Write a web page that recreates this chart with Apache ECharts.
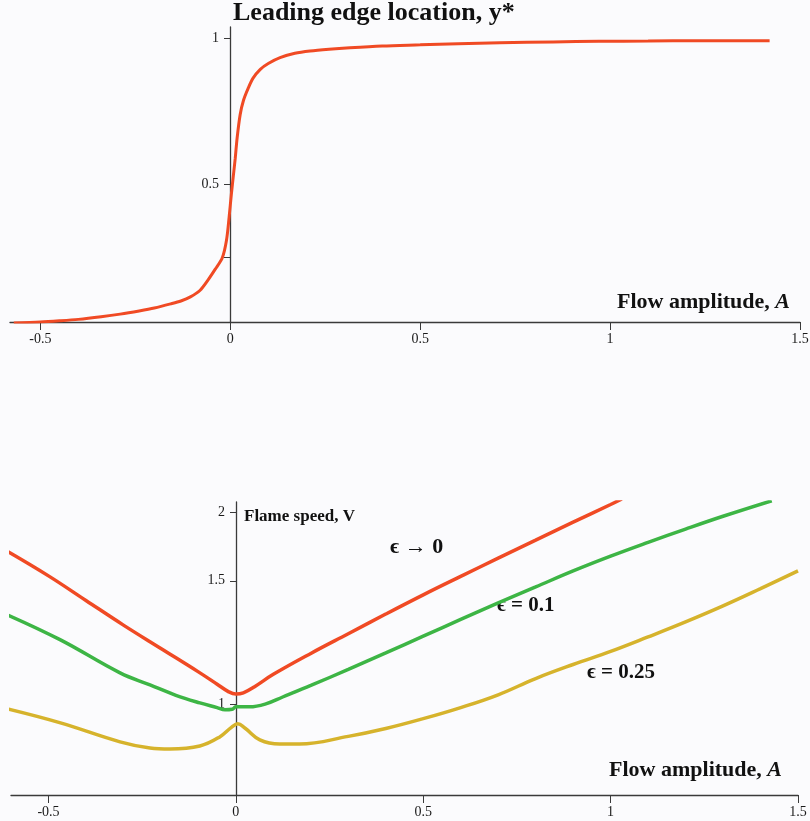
<!DOCTYPE html>
<html>
<head>
<meta charset="utf-8">
<script src="https://cdn.jsdelivr.net/npm/echarts@6/dist/echarts.min.js"></script>
<style>
  html, body { margin: 0; padding: 0; background: #fbfbfd; }
  #main { width: 810px; height: 821px; }
</style>
</head>
<body>
<div id="main"></div>
<script>
// top panel: leading edge location y* vs flow amplitude A
var edgeA = [-0.57, -0.5, -0.45, -0.4, -0.34, -0.29, -0.24, -0.2, -0.157, -0.13, -0.105, -0.08, -0.058, -0.04, -0.021, -0.01, -0.003, 0.003, 0.008, 0.013, 0.018, 0.026, 0.035, 0.047, 0.06, 0.079, 0.1, 0.131, 0.17, 0.21, 0.26, 0.315, 0.4, 0.5, 0.6, 0.71, 0.85, 0.97, 1.1, 1.23, 1.33, 1.42];
var edgeY = [0.027, 0.03, 0.034, 0.039, 0.048, 0.057, 0.068, 0.078, 0.092, 0.102, 0.116, 0.138, 0.175, 0.21, 0.25, 0.31, 0.39, 0.47, 0.53, 0.59, 0.66, 0.74, 0.79, 0.83, 0.865, 0.895, 0.915, 0.935, 0.95, 0.958, 0.964, 0.969, 0.975, 0.979, 0.983, 0.986, 0.989, 0.991, 0.992, 0.993, 0.993, 0.993];

// bottom panel: flame speed V vs flow amplitude A
var redA = [-0.61, -0.5, -0.4, -0.3, -0.2, -0.1, -0.05, -0.02, 0, 0.02, 0.05, 0.1, 0.2, 0.3, 0.4, 0.5, 0.6, 0.7, 0.8, 0.9, 1.0, 1.03];
var redV = [1.62, 1.52, 1.42, 1.32, 1.225, 1.13, 1.08, 1.05, 1.04, 1.045, 1.07, 1.12, 1.205, 1.285, 1.365, 1.443, 1.518, 1.592, 1.665, 1.738, 1.81, 1.832];

var greenA = [-0.61, -0.468, -0.309, -0.229, -0.16, -0.096, -0.05, -0.029, -0.01, 0, 0.037, 0.08, 0.125, 0.2, 0.3, 0.4, 0.5, 0.6, 0.7, 0.8, 0.9, 1.0, 1.1, 1.2, 1.3, 1.43];
var greenV = [1.362, 1.26, 1.126, 1.077, 1.035, 1.004, 0.985, 0.976, 0.978, 0.988, 0.988, 1.0, 1.028, 1.075, 1.14, 1.207, 1.275, 1.343, 1.41, 1.475, 1.54, 1.6, 1.656, 1.71, 1.762, 1.825];

var yellowA = [-0.61, -0.468, -0.309, -0.229, -0.176, -0.096, -0.043, -0.011, 0.005, 0.024, 0.064, 0.117, 0.17, 0.3, 0.4, 0.5, 0.6, 0.7, 0.8, 0.9, 1.0, 1.1, 1.2, 1.3, 1.4, 1.5];
var yellowV = [0.98, 0.923, 0.846, 0.821, 0.817, 0.829, 0.866, 0.906, 0.919, 0.902, 0.854, 0.837, 0.837, 0.868, 0.9, 0.94, 0.985, 1.037, 1.103, 1.16, 1.213, 1.272, 1.333, 1.398, 1.468, 1.54];

var xTicks = [-0.5, 0, 0.5, 1, 1.5];
var topYTicks = [0.25, 0.5, 1];
var topYLabels = [0.5, 1];
var bottomYTicks = [1, 1.5, 1.78];
var bottomYText = ['1', '1.5', '2'];

function pairs(xs, ys) {
    var out = [];
    for (var i = 0; i < xs.length; i++) out.push([xs[i], ys[i]]);
    return out;
}

var serif = "'Liberation Serif', 'DejaVu Serif', serif";
var axisCol = '#3a3a3a';

function xAxisOpt(grid, min, max) {
    return {
        type: 'value', gridIndex: grid, min: min, max: max,
        axisLine: { onZero: false, lineStyle: { color: axisCol, width: 1.3 } },
        axisTick: { customValues: xTicks, length: 8, lineStyle: { color: axisCol } },
        axisLabel: { customValues: xTicks, color: '#1a1a1a', fontFamily: serif, fontSize: 14, margin: 10 },
        splitLine: { show: false }
    };
}

var chart = echarts.init(document.getElementById('main'));
var option = {
    backgroundColor: '#fbfbfd',
    animation: false,
    grid: [
        { left: 10, right: 10, top: 27, height: 295, outerBoundsMode: 'none' },
        { left: 11, right: 12, top: 502, height: 293, outerBoundsMode: 'none' }
    ],
    xAxis: [xAxisOpt(0, -0.58, 1.5), xAxisOpt(1, -0.6, 1.5)],
    yAxis: [
        {
            type: 'value', gridIndex: 0, min: 0.03, max: 1.04, offset: -220,
            axisLine: { onZero: false, lineStyle: { color: axisCol, width: 1.3 } },
            axisTick: { customValues: topYTicks, length: 6, lineStyle: { color: axisCol } },
            axisLabel: { customValues: topYLabels, color: '#1a1a1a', fontFamily: serif, fontSize: 14, margin: 11 },
            splitLine: { show: false }
        },
        {
            type: 'value', gridIndex: 1, min: 0.63, max: 1.82, offset: -225,
            axisLine: { onZero: false, lineStyle: { color: axisCol, width: 1.3 } },
            axisTick: { customValues: bottomYTicks, length: 6, lineStyle: { color: axisCol } },
            axisLabel: {
                customValues: bottomYTicks, color: '#1a1a1a', fontFamily: serif, fontSize: 14, margin: 11,
                formatter: function (v) {
                    var i = bottomYTicks.indexOf(v);
                    return i >= 0 ? bottomYText[i] : '';
                }
            },
            splitLine: { show: false }
        }
    ],
    series: [
        {
            type: 'line', xAxisIndex: 0, yAxisIndex: 0, data: pairs(edgeA, edgeY),
            showSymbol: false, smooth: 0.3, lineStyle: { color: '#f04a24', width: 3 }
        },
        {
            type: 'line', xAxisIndex: 1, yAxisIndex: 1, data: pairs(redA, redV), clip: true,
            showSymbol: false, smooth: 0.4, lineStyle: { color: '#f04a24', width: 3.5 }
        },
        {
            type: 'line', xAxisIndex: 1, yAxisIndex: 1, data: pairs(greenA, greenV), clip: true,
            showSymbol: false, smooth: 0.4, lineStyle: { color: '#3db545', width: 3.5 }
        },
        {
            type: 'line', xAxisIndex: 1, yAxisIndex: 1, data: pairs(yellowA, yellowV), clip: true,
            showSymbol: false, smooth: 0.4, lineStyle: { color: '#d6b32c', width: 3.5 }
        }
    ],
    graphic: [
        { type: 'text', left: 233, top: 0, style: { text: 'Leading edge location, y*', font: 'bold 26px ' + serif, fill: '#111' } },
        { type: 'text', right: 20, top: 291, style: { rich: { b: { font: 'bold 22px ' + serif, fill: '#111' }, i: { font: 'italic bold 22px ' + serif, fill: '#111' } }, text: '{b|Flow amplitude, }{i|A}' } },
        { type: 'text', right: 28, top: 759, style: { rich: { b: { font: 'bold 22px ' + serif, fill: '#111' }, i: { font: 'italic bold 22px ' + serif, fill: '#111' } }, text: '{b|Flow amplitude, }{i|A}' } },
        { type: 'text', left: 244, top: 508, style: { text: 'Flame speed, V', font: 'bold 17px ' + serif, fill: '#111' } },
        { type: 'text', left: 390, top: 536, style: { text: 'ϵ → 0', font: 'bold 22px ' + serif, fill: '#111' } },
        { type: 'text', left: 497, top: 595, style: { text: 'ϵ = 0.1', font: 'bold 21px ' + serif, fill: '#111' } },
        { type: 'text', left: 587, top: 662, style: { text: 'ϵ = 0.25', font: 'bold 21px ' + serif, fill: '#111' } }
    ]
};
chart.setOption(option);
</script>
</body>
</html>
